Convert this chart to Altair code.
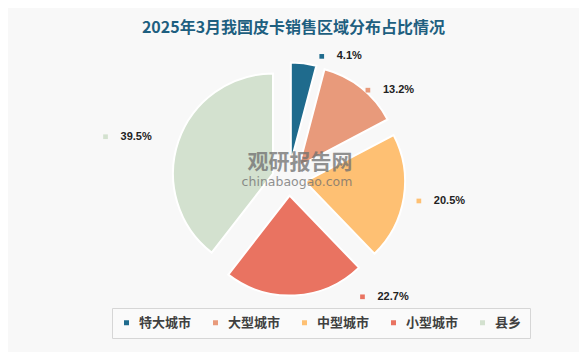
import altair as alt
import pandas as pd

# ---- data ----
categories = ["特大城市", "大型城市", "中型城市", "小型城市", "县乡"]
shares = [4.1, 13.2, 20.5, 22.7, 39.5]
colors = ["#1f6b8d", "#e89a7b", "#fec073", "#e97361", "#d3e1cf"]
title_text = "2025年3月我国皮卡销售区域分布占比情况"

# ---- layout (pixels in plot area) ----
CX, CY = 280.7, 121.0
R = 100
EXPLODE = 16.6
label_shift_deg = [7.7, 3.2, 0.4, -29.0, -5.9]
label_radius = [127, 119, 132, 139, 188]

df = pd.DataFrame({
    "category": categories,
    "share": shares,
    "order": list(range(len(categories))),
    "lshift": label_shift_deg,
    "lrad": label_radius,
})

color_scale = alt.Scale(domain=categories, range=colors)

base = (
    alt.Chart(df)
    .transform_joinaggregate(total="sum(share)")
    .transform_window(cum="sum(share)", sort=[alt.SortField("order")], frame=[None, 0])
    .transform_calculate(
        t1="2*PI*datum.cum/datum.total",
        t0="2*PI*(datum.cum-datum.share)/datum.total",
    )
    .transform_calculate(mid="(datum.t0+datum.t1)/2")
    .transform_calculate(
        px=f"{CX}+{EXPLODE}*sin(datum.mid)",
        py=f"{CY}-{EXPLODE}*cos(datum.mid)",
        la="datum.mid + datum.lshift*PI/180",
        label="format(datum.share, '.1f') + '%'",
    )
    .transform_calculate(
        lx=f"{CX}+datum.lrad*sin(datum.la)",
        ly=f"{CY}-datum.lrad*cos(datum.la)",
    )
)

arcs = base.mark_arc(outerRadius=R, stroke="white", strokeWidth=2).encode(
    x=alt.X("px:Q", scale=None, axis=None),
    y=alt.Y("py:Q", scale=None, axis=None),
    theta=alt.Theta("t0:Q", scale=None, stack=None),
    theta2="t1:Q",
    color=alt.Color(
        "category:N",
        scale=color_scale,
        legend=alt.Legend(
            orient="none", legendX=104, legendY=250, direction="horizontal",
            title=None, symbolType="square", symbolSize=25, symbolStrokeWidth=0,
            labelFont="Noto Sans CJK SC", labelFontSize=13, labelFontWeight="bold",
            labelColor="#404040", columnPadding=17, padding=8, labelOffset=6,
            strokeColor="#d6d6d6", fillColor="#fafafa",
        ),
    ),
)

markers = base.mark_square(size=22, opacity=1).encode(
    x=alt.X("lx:Q", scale=None, axis=None),
    y=alt.Y("ly:Q", scale=None, axis=None),
    color=alt.Color("category:N", scale=color_scale, legend=None),
)

labels = base.mark_text(
    align="left", baseline="middle", dx=15, font="Liberation Sans",
    fontSize=11, fontWeight="bold", color="#222222",
).encode(
    x=alt.X("lx:Q", scale=None, axis=None),
    y=alt.Y("ly:Q", scale=None, axis=None),
    text="label:N",
)

wm = pd.DataFrame({"t1": ["观研报告网"], "t2": ["chinabaogao.com"]})
wm1 = alt.Chart(wm).mark_text(
    font="Noto Sans CJK SC", fontSize=21, fontWeight="bold", color="#6e6e6e", opacity=0.75,
).encode(x=alt.value(292), y=alt.value(105), text="t1:N")
wm2 = alt.Chart(wm).mark_text(
    font="DejaVu Sans", fontSize=12.5, color="#6e6e6e", opacity=0.75,
).encode(x=alt.value(289), y=alt.value(124), text="t2:N")

chart = (
    alt.layer(arcs, markers, labels, wm1, wm2)
    .properties(
        width=571, height=294,
        padding={"left": 0, "top": 50, "right": 0, "bottom": 0},
        autosize=alt.AutoSizeParams(type="none"),
        title=alt.TitleParams(
            title_text, fontSize=16, font="Noto Sans CJK SC", fontWeight="bold",
            color="#1e5f80", anchor="middle", offset=14,
        ),
    )
    .configure(background="#f8f8f8")
    .configure_view(stroke=None)
)

chart.save("out.html", embed_options={"renderer": "svg", "actions": False})
